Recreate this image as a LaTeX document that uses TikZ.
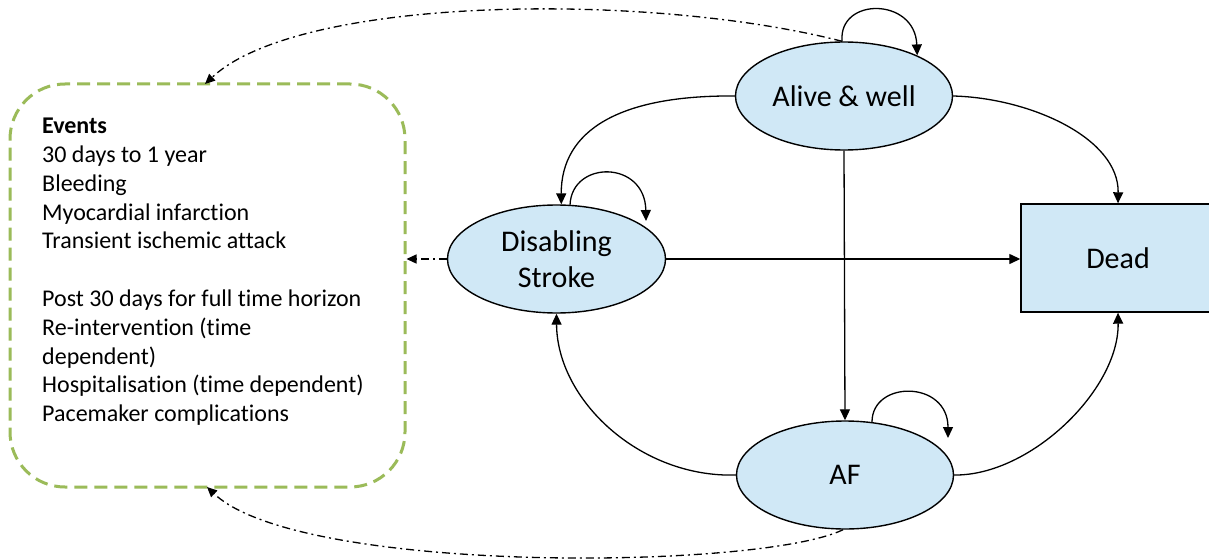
\documentclass[tikz,border=0pt]{standalone}
\usepackage{fontspec}
\setmainfont{Carlito}[Ligatures=NoCommon]
\usetikzlibrary{arrows.meta,shapes.geometric}
\definecolor{nodeblue}{RGB}{208,232,246}
\definecolor{evgreen}{RGB}{155,187,89}
\begin{document}
\begin{tikzpicture}[x=1pt,y=1pt,
  state/.style={ellipse,draw,line width=1.4pt,fill=nodeblue,minimum width=217pt,minimum height=108pt,inner sep=0pt,font=\fontsize{30}{36.6}\selectfont,align=center},
  deadbox/.style={rectangle,draw,line width=1.4pt,fill=nodeblue,minimum width=194pt,minimum height=108pt,inner sep=0pt,font=\fontsize{30}{36.6}\selectfont},
  flow/.style={line width=1.3pt,-{Triangle[length=11pt,width=10pt]}},
  link/.style={line width=1.3pt,dash pattern=on 8pt off 4pt on 2pt off 4pt,-{Triangle[length=10pt,width=9pt]}},
  eventsbox/.style={draw=evgreen,line width=3pt,dash pattern=on 13pt off 7pt,rounded corners=55pt,minimum width=395pt,minimum height=403pt,inner sep=0pt},
  evtextstyle/.style={anchor=north west,align=left,inner sep=0pt,font=\fontsize{24}{28.8}\selectfont}
]
\clip (0,0) rectangle (1209,-559);
\fill[white] (0,0) rectangle (1209,-559);

\node[state] (alive) at (844,-96) {Alive \& well};
\node[state,minimum width=218pt] (dis) at (556.5,-259) {Disabling\\Stroke};
\node[state] (af) at (845,-475) {AF};
\node[deadbox] (dead) at (1118,-258) {Dead};
\node[eventsbox] (events) at (207.5,-285.5) {};
\node[evtextstyle] (evtext) at (42,-118) {\textbf{Events}\\
30 days to 1 year\\
Bleeding\\
Myocardial infarction\\
Transient ischemic attack\\[28.8pt]
Post 30 days for full time horizon\\
Re-intervention (time\\
dependent)\\
Hospitalisation (time dependent)\\
Pacemaker complications};

\coordinate (evtop) at (205,-84);
\coordinate (evbot) at (207,-487);
\coordinate (dloop) at (646,-221);
\coordinate (afloop) at (948,-438);

% self loops
\draw[flow] (alive.92) .. controls (838,3) and (915,3) .. (alive.29);
\draw[flow] (dis.76) .. controls (572,-160) and (645,-160) .. (dloop);
\draw[flow] (af.63) .. controls (872,-380) and (948,-380) .. (afloop);

% transitions
\draw[flow] (alive.west) .. controls (620,-95) and (561,-130) .. (dis.85);
\draw[flow] (alive.east) .. controls (1030,-98) and (1119,-138) .. (dead.north);
\draw[flow] (alive.south) -- (af.north);
\draw[flow] (dis.east) -- (dis.east -| dead.west);
\draw[flow] (af.west) .. controls (640,-478) and (557,-400) .. (dis.south);
\draw[flow] (af.east) .. controls (1030,-476) and (1119,-390) .. (dead.south);

% links to events
\draw[link] (alive.92) .. controls (650,8) and (300,5) .. (evtop);
\draw[link] (dis.west) -- (dis.west -| events.east);
\draw[link] (af.268) .. controls (760,-570) and (300,-575) .. (evbot);
\end{tikzpicture}
\end{document}
